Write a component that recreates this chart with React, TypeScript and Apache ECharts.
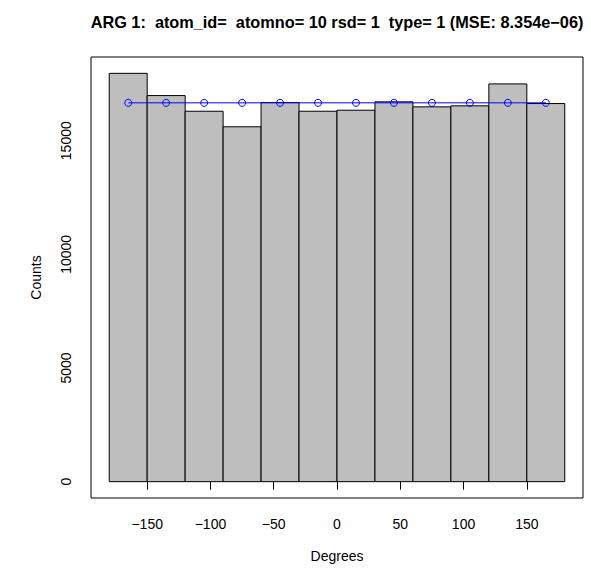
import React, { useEffect, useRef } from "react";
import * as echarts from "echarts";

// Histogram of dihedral angles: 12 bins of 30 degrees each
const binStarts = [-180, -150, -120, -90, -60, -30, 0, 30, 60, 90, 120, 150];
const binWidth = 30;
const counts = [17965, 16987, 16298, 15614, 16680, 16298, 16342, 16711, 16491, 16535, 17500, 16636];

// Expected counts at bin centres (uniform reference)
const centers = [-165, -135, -105, -75, -45, -15, 15, 45, 75, 105, 135, 165];
const expected = [16667, 16667, 16667, 16667, 16667, 16667, 16667, 16667, 16667, 16667, 16667, 16667];

const xTicks = [-150, -100, -50, 0, 50, 100, 150];
const yTicks = [0, 5000, 10000, 15000];

const titleText = "ARG 1:  atom_id=  atomno= 10 rsd= 1  type= 1 (MSE: 8.354e\u221206)";

const FONT = "'Liberation Sans', Arial, Helvetica, sans-serif";

export default function App() {
  const ref = useRef<HTMLDivElement>(null);

  useEffect(() => {
    if (!ref.current) return;
    const chart = echarts.init(ref.current, null, { renderer: "svg" });

    const histData = binStarts.map((s, i) => [s, s + binWidth, counts[i]]);
    const lineData = centers.map((c, i) => [c, expected[i]]);

    // R-style extended ranges (4% padding)
    const xMin = -180 - 0.04 * 360;
    const xMax = 180 + 0.04 * 360;
    const yTop = Math.max(...counts);
    const yMin = -0.04 * yTop;
    const yMax = yTop * 1.04;

    chart.setOption({
      animation: false,
      backgroundColor: "#ffffff",
      title: {
        text: titleText,
        left: 337,
        top: 14,
        padding: 0,
        textAlign: "center",
        textStyle: { fontFamily: FONT, fontSize: 16.3, fontWeight: "bold", color: "#000" },
      },
      grid: {
        left: 91,
        right: 8,
        top: 57,
        bottom: 71,
        show: true,
        borderColor: "#000",
        borderWidth: 1,
        backgroundColor: "transparent",
      },
      xAxis: {
        type: "value",
        min: xMin,
        max: xMax,
        name: "Degrees",
        nameLocation: "middle",
        nameGap: 51,
        nameTextStyle: { fontFamily: FONT, fontSize: 14, color: "#000" },
        axisLine: { show: false },
        splitLine: { show: false },
        axisTick: {
          show: true,
          inside: false,
          length: 8,
          customValues: xTicks,
          lineStyle: { color: "#000", width: 1 },
        },
        axisLabel: {
          customValues: xTicks,
          margin: 19,
          fontFamily: FONT,
          fontSize: 14,
          color: "#000",
          formatter: (v: number) => String(v).replace("-", "\u2212"),
        },
      },
      yAxis: {
        type: "value",
        min: yMin,
        max: yMax,
        name: "Counts",
        nameLocation: "middle",
        nameGap: 48,
        nameRotate: 90,
        nameTextStyle: { fontFamily: FONT, fontSize: 14, color: "#000" },
        axisLine: { show: false },
        splitLine: { show: false },
        axisTick: {
          show: true,
          inside: false,
          length: 8,
          customValues: yTicks,
          lineStyle: { color: "#000", width: 1 },
        },
        axisLabel: {
          customValues: yTicks,
          rotate: 90,
          margin: 18,
          fontFamily: FONT,
          fontSize: 14,
          color: "#000",
          formatter: (v: number) => String(v),
        },
      },
      series: [
        {
          type: "custom",
          data: histData,
          renderItem: (params: any, api: any) => {
            const p0 = api.coord([api.value(0), 0]);
            const p1 = api.coord([api.value(1), api.value(2)]);
            return {
              type: "rect",
              shape: { x: p0[0], y: p1[1], width: p1[0] - p0[0], height: p0[1] - p1[1] },
              style: { fill: "#bebebe", stroke: "#000", lineWidth: 1 },
            };
          },
          z: 1,
        },
        {
          type: "line",
          data: lineData,
          symbol: "circle",
          symbolSize: 7,
          showAllSymbol: true,
          lineStyle: { color: "#0000ff", width: 1 },
          itemStyle: { color: "rgba(0,0,0,0)", borderColor: "#0000ff", borderWidth: 1 },
          emphasis: { disabled: true },
          z: 3,
        },
      ],
    });

    return () => chart.dispose();
  }, []);

  return (
    <div
      ref={ref}
      style={{ position: "fixed", left: 0, top: 0, width: 591, height: 569, background: "#fff" }}
    />
  );
}
